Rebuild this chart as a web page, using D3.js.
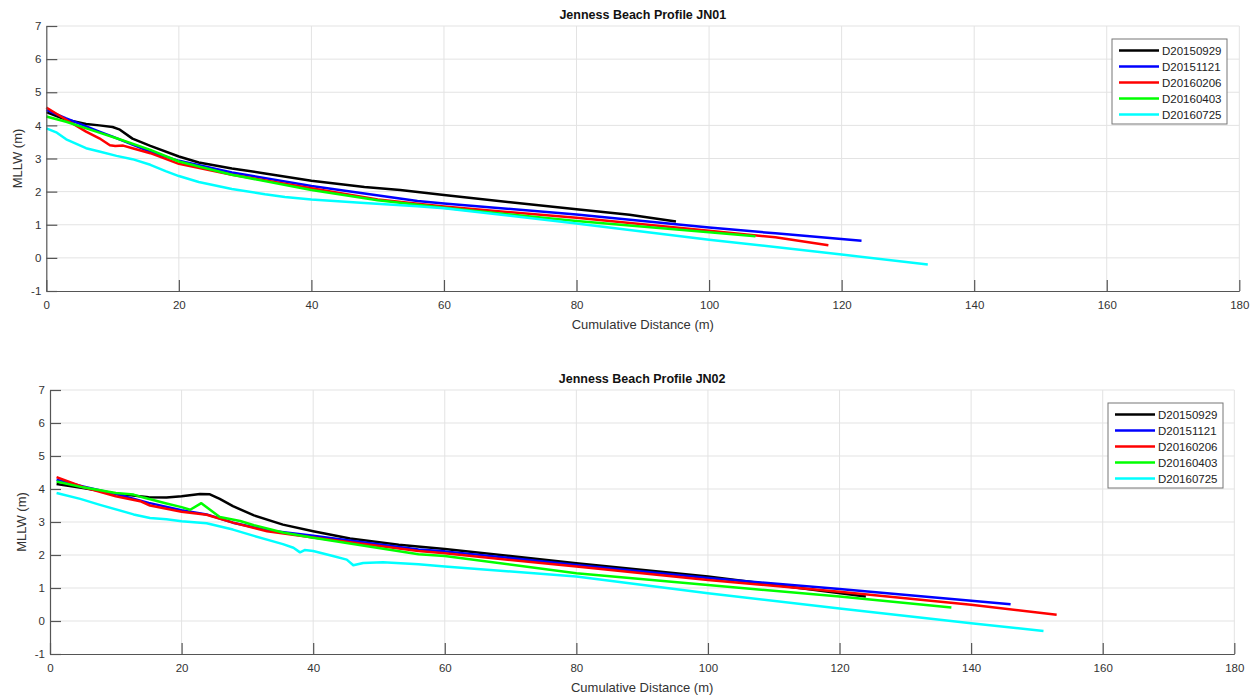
<!DOCTYPE html>
<html>
<head>
<meta charset="utf-8">
<script src="https://cdn.jsdelivr.net/npm/d3@7"></script>
<style>
    body { margin: 0; background: #fff; }
    svg { display: block; font-family: "Liberation Sans", Arial, sans-serif; }
</style>
</head>
<body>
<div id="chart"></div>
<script>

// survey dates (legend order)
let surveys = ["D20150929", "D20151121", "D20160206", "D20160403", "D20160725"];
let survey_colors = ["#000000", "#0000ff", "#ff0000", "#00ff00", "#00ffff"];

let x_ticks = [0, 20, 40, 60, 80, 100, 120, 140, 160, 180];
let y_ticks = [-1, 0, 1, 2, 3, 4, 5, 6, 7];

// profile JN01: [cumulative distance (m), MLLW (m)]
let jn01_D20150929 = [[0,4.40],[3,4.17],[6,4.04],[8,4.0],[10,3.95],[11,3.88],[13,3.6],[15.7,3.38],[20,3.06],[23,2.88],[28,2.7],[33,2.55],[40,2.33],[48,2.14],[53.4,2.05],[60,1.9],[70,1.68],[80,1.47],[88,1.3],[95,1.1]];
let jn01_D20151121 = [[0,4.47],[3,4.21],[8,3.81],[10,3.66],[13,3.42],[16,3.18],[20,2.93],[28,2.58],[40,2.17],[56,1.72],[60,1.64],[80,1.31],[100,0.92],[110,0.74],[123,0.52]];
let jn01_D20160206 = [[0,4.54],[3,4.17],[6,3.81],[8,3.61],[9.6,3.4],[10.4,3.38],[11.6,3.39],[13,3.31],[15.7,3.16],[20,2.84],[28,2.51],[40,2.1],[50,1.76],[60,1.55],[80,1.21],[100,0.82],[110,0.62],[118,0.38]];
let jn01_D20160403 = [[0,4.27],[3,4.11],[8,3.78],[10.6,3.61],[15.7,3.26],[20,2.91],[28,2.51],[40,2.05],[50,1.74],[60,1.51],[80,1.11],[100,0.77],[107,0.65]];
let jn01_D20160725 = [[0,3.91],[1.6,3.78],[3,3.58],[6,3.31],[8,3.21],[10.6,3.08],[13,2.98],[15.7,2.81],[18,2.62],[20,2.47],[23,2.29],[28,2.08],[33,1.92],[36,1.84],[40,1.76],[48,1.66],[56,1.56],[60,1.5],[80,1.04],[100,0.55],[120,0.1],[133,-0.2]];

// profile JN02
let jn02_D20150929 = [[1,4.15],[5,4.03],[10,3.86],[15,3.75],[17.7,3.74],[20,3.78],[22.8,3.85],[24.3,3.84],[25.8,3.7],[27.8,3.48],[31,3.2],[35.4,2.92],[40,2.72],[45.6,2.5],[53,2.31],[60,2.18],[80,1.75],[100,1.35],[110,1.1],[124,0.74]];
let jn02_D20151121 = [[1,4.28],[5,4.08],[10,3.85],[15,3.58],[20,3.36],[23.8,3.23],[27.8,2.98],[33,2.75],[40,2.58],[56,2.17],[60,2.11],[80,1.7],[100,1.3],[120,0.97],[146,0.51]];
let jn02_D20160206 = [[1,4.36],[5,4.06],[10,3.78],[13.7,3.63],[15.2,3.5],[20,3.31],[23.8,3.22],[27.8,2.98],[33,2.72],[40,2.53],[56,2.12],[60,2.05],[80,1.65],[100,1.24],[120,0.89],[140,0.49],[153,0.19]];
let jn02_D20160403 = [[1,4.23],[5,4.05],[10,3.88],[12.7,3.83],[14.2,3.74],[17.7,3.56],[20,3.45],[21.3,3.37],[23,3.57],[25.8,3.15],[28.9,3.03],[31,2.9],[35.4,2.68],[40,2.52],[56,2.02],[60,1.97],[80,1.45],[100,1.09],[120,0.74],[137,0.41]];
let jn02_D20160725 = [[1,3.88],[4.6,3.7],[7.6,3.52],[12.7,3.23],[15.2,3.12],[17.7,3.08],[20,3.02],[23.8,2.96],[27.8,2.77],[31,2.58],[35.4,2.33],[37,2.22],[38,2.08],[38.7,2.15],[40,2.12],[43,1.97],[45.1,1.86],[46.1,1.69],[47.6,1.76],[50.6,1.78],[56,1.72],[60,1.65],[80,1.35],[100,0.84],[120,0.38],[140,-0.07],[151,-0.3]];

let width = 1257, height = 696;

let svg = d3.select("#chart")
    .append("svg")
    .attr("width", width)
    .attr("height", height);

function draw_profile(title, series, box, legend_box) {
    let x = d3.scaleLinear().domain([0, 180]).range([box.left, box.right]);
    let y = d3.scaleLinear().domain([-1, 7]).range([box.bottom, box.top]);

    let g = svg.append("g");

    // grid
    g.selectAll(".vgrid").data(x_ticks.slice(1)).enter()
        .append("line")
        .attr("x1", d => x(d)).attr("x2", d => x(d))
        .attr("y1", box.top).attr("y2", box.bottom)
        .attr("stroke", "#e3e3e3").attr("stroke-width", 1);
    g.selectAll(".hgrid").data(y_ticks.slice(1)).enter()
        .append("line")
        .attr("x1", box.left).attr("x2", box.right)
        .attr("y1", d => y(d)).attr("y2", d => y(d))
        .attr("stroke", "#e3e3e3").attr("stroke-width", 1);

    // lines
    let line = d3.line().x(d => x(d[0])).y(d => y(d[1]));
    for (let i in series) {
        g.append("path")
            .datum(series[i])
            .attr("d", line)
            .attr("fill", "none")
            .attr("stroke", survey_colors[i])
            .attr("stroke-width", 2.5)
            .attr("stroke-linejoin", "round");
    }

    // axes (plain hyphen for negatives, like the original)
    let fmt = d => String(d);
    let x_axis = g.append("g")
        .attr("transform", "translate(0," + box.bottom + ")")
        .call(d3.axisBottom(x).tickValues(x_ticks).tickFormat(fmt).tickSizeInner(-11).tickSizeOuter(0).tickPadding(10));
    let y_axis = g.append("g")
        .attr("transform", "translate(" + box.left + ",0)")
        .call(d3.axisLeft(y).tickValues(y_ticks).tickFormat(fmt).tickSizeInner(-11).tickSizeOuter(0).tickPadding(5));
    for (let ax of [x_axis, y_axis]) {
        ax.selectAll("path, line").attr("stroke", "#555").attr("stroke-width", 1.2);
        ax.selectAll("text").attr("fill", "#333").style("font-size", "11.5px");
    }

    // labels
    g.append("text")
        .attr("x", (box.left + box.right) / 2)
        .attr("y", box.top - 7)
        .attr("text-anchor", "middle")
        .style("font-size", "12.5px").style("font-weight", "bold")
        .attr("fill", "#111")
        .text(title);
    g.append("text")
        .attr("x", (box.left + box.right) / 2)
        .attr("y", box.bottom + 38)
        .attr("text-anchor", "middle")
        .style("font-size", "13px")
        .attr("fill", "#333")
        .text("Cumulative Distance (m)");
    g.append("text")
        .attr("transform", "translate(" + (box.left - 24) + "," + y(3) + ") rotate(-90)")
        .attr("text-anchor", "middle")
        .style("font-size", "13px")
        .attr("fill", "#333")
        .text("MLLW (m)");

    // legend
    let lg = g.append("g").attr("transform", "translate(" + legend_box.x + "," + legend_box.y + ")");
    lg.append("rect")
        .attr("width", 115).attr("height", 85)
        .attr("fill", "#fff").attr("stroke", "#777").attr("stroke-width", 1);
    for (let i in surveys) {
        let cy = 11.5 + i * 16;
        lg.append("line")
            .attr("x1", 7).attr("x2", 47)
            .attr("y1", cy).attr("y2", cy)
            .attr("stroke", survey_colors[i]).attr("stroke-width", 2.5);
        lg.append("text")
            .attr("x", 50).attr("y", cy)
            .attr("dy", "0.35em")
            .style("font-size", "11.5px")
            .attr("fill", "#222")
            .text(surveys[i]);
    }
}

draw_profile("Jenness Beach Profile JN01",
    [jn01_D20150929, jn01_D20151121, jn01_D20160206, jn01_D20160403, jn01_D20160725],
    {left: 46.3, right: 1239.3, top: 26, bottom: 291},
    {x: 1112, y: 39});

draw_profile("Jenness Beach Profile JN02",
    [jn02_D20150929, jn02_D20151121, jn02_D20160206, jn02_D20160403, jn02_D20160725],
    {left: 50, right: 1234.3, top: 390, bottom: 654},
    {x: 1108, y: 403});

</script>
</body>
</html>
